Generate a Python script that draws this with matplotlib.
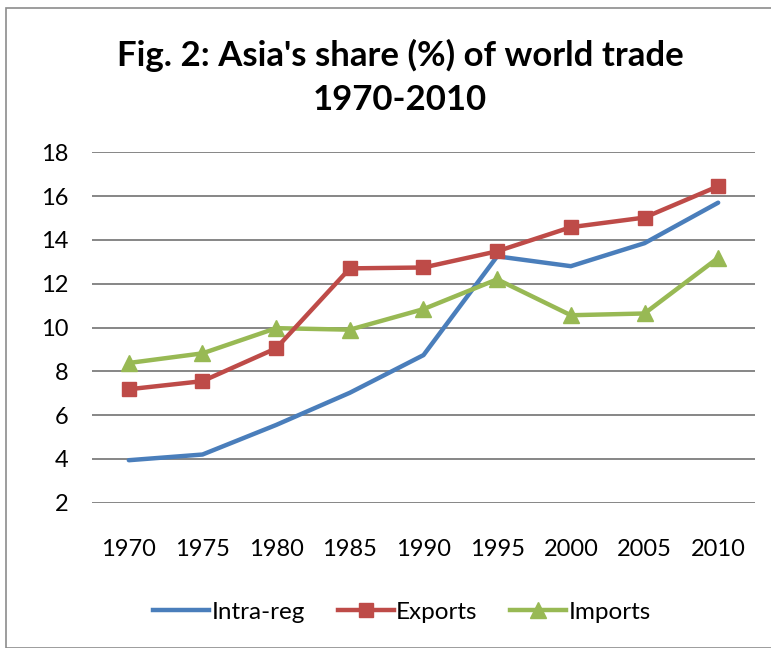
import matplotlib
matplotlib.use("Agg")
import matplotlib.pyplot as plt
from matplotlib.patches import Rectangle
from matplotlib.lines import Line2D

years = ["1970", "1975", "1980", "1985", "1990", "1995", "2000", "2005", "2010"]
intra_reg = [3.94, 4.2, 5.55, 7.02, 8.74, 13.25, 12.8, 13.85, 15.7]
exports = [7.18, 7.55, 9.05, 12.7, 12.74, 13.48, 14.58, 15.02, 16.45]
imports = [8.38, 8.82, 9.97, 9.9, 10.84, 12.2, 10.56, 10.64, 13.18]
yticks = [2, 4, 6, 8, 10, 12, 14, 16, 18]

plt.rcParams['font.family'] = ['Lato', 'DejaVu Sans']

fig = plt.figure(figsize=(7.71, 6.48), dpi=100)
fig.patches.append(Rectangle((6/771, 0), 1, 1 - 8/648, transform=fig.transFigure,
                             fill=False, edgecolor='#8C8C8C', linewidth=1.2))

ax = fig.add_axes([92/771, 1 - 502.7/648, (755-92)/771, (502.7-152.3)/648])
x = list(range(len(years)))
blue, red, green = '#4A7EBB', '#BE4B48', '#98B954'
ax.plot(x, intra_reg, color=blue, linewidth=3.2, solid_capstyle='round', zorder=3)
ax.plot(x, exports, color=red, linewidth=3.2, marker='s', markersize=10, zorder=4)
ax.plot(x, imports, color=green, linewidth=3.2, marker='^', markersize=11, zorder=3)

ax.set_xlim(-0.5, len(years) - 0.5)
ax.set_ylim(2, 18)
ax.set_yticks(yticks)
ax.set_yticklabels([str(t) for t in yticks], fontsize=17)
ax.set_xticks(x)
ax.set_xticklabels(years, fontsize=17)
ax.tick_params(axis='both', length=0)
ax.tick_params(axis='y', pad=17)
ax.tick_params(axis='x', pad=26)
ax.grid(axis='y', color='#868686', linewidth=1.4)
ax.set_axisbelow(True)
for s in ax.spines.values():
    s.set_visible(False)

fig.text(400/771, 1 - 55/648, "Fig. 2: Asia's share (%) of world trade", ha='center', va='center',
         fontsize=25, fontweight='bold')
fig.text(400/771, 1 - 100/648, "1970-2010", ha='center', va='center',
         fontsize=25, fontweight='bold')

handles = [Line2D([], [], color=blue, linewidth=3.2),
           Line2D([], [], color=red, linewidth=3.2, marker='s', markersize=10),
           Line2D([], [], color=green, linewidth=3.2, marker='^', markersize=11)]
fig.legend(handles, ['Intra-reg', 'Exports', 'Imports'], loc='center',
           bbox_to_anchor=(402/771, 1 - 612/648), ncol=3, frameon=False,
           fontsize=17.5, handlelength=2.3, handletextpad=0.1, columnspacing=1.35)

fig.savefig("out.png", dpi=100)
